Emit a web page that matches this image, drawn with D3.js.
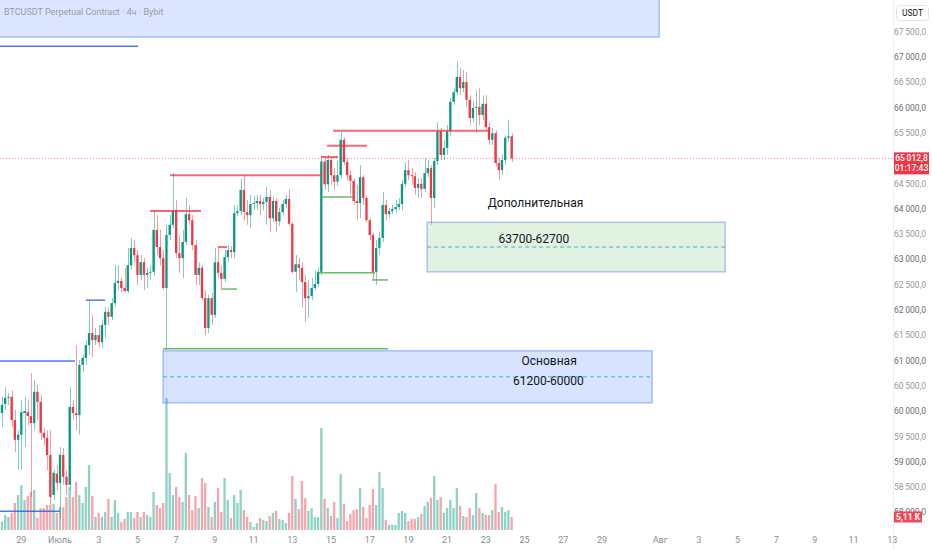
<!DOCTYPE html>
<html><head><meta charset="utf-8">
<script src="https://cdn.jsdelivr.net/npm/d3@7/dist/d3.min.js"></script>
<style>html,body{margin:0;padding:0;background:#fff;overflow:hidden}svg{display:block}</style>
</head><body><svg id="c" width="932" height="550"></svg>
<script>
// ---------- DATA ----------
const firstCandle = "2024-06-27T20:00:00Z"; // 4h candles
// [open, high, low, close]
const ohlc = [
[60240,60340,60000,60080],[59980,60300,59700,60140],[60160,60490,60040,60280],[60280,60380,60140,60300],
[60300,60430,59700,59840],[59840,60040,59210,59450],[59450,59640,58850,59550],[59550,60240,58850,60000],
[59980,60300,59310,60020],[60000,60240,59740,59920],[59920,60770,58320,59780],[59780,60630,59640,60400],
[60400,60530,59840,60200],[60200,60340,59450,59590],[59590,59680,59350,59490],[59490,59640,58850,59150],
[59150,59640,58160,58320],[58360,58850,58260,58800],[58780,58950,58460,58600],[58600,59310,57900,59150],
[59150,59290,58560,58720],[58720,58850,58360,58560],[58560,60490,58460,60100],[60100,60240,59840,59980],
[59980,61320,59640,59940],[59940,61030,59550,60930],[60930,61130,60790,61070],[61070,61420,60930,61320],
[61320,62210,61130,61560],[61560,61920,61090,61420],[61420,61660,61320,61520],[61520,61720,61280,61380],
[61380,61820,61260,61720],[61720,62080,61460,61980],[61980,62060,61720,61880],[61880,62250,61820,62150],
[62150,62900,62090,62550],[62550,62900,62410,62590],[62590,62650,62370,62450],[62450,62850,62350,62390],
[62390,63240,62350,62900],[62900,63440,62810,63240],[63240,63400,62960,63100],[63100,63200,62510,62710],
[62710,63100,62610,62960],[62960,63040,62410,62710],[62710,62850,62450,62750],[62750,62900,62610,62770],
[62770,63990,62690,63600],[63600,63890,63100,63260],[63260,63600,62900,63040],[63040,63200,62410,62450],
[62450,63700,61230,63500],[63500,63890,63400,63700],[63700,64720,63640,63990],[63990,64190,63040,63140],
[63140,63500,62750,63040],[63040,63600,62650,63360],[63360,64230,63300,63910],[63910,64090,63700,63790],
[63790,63890,63200,63300],[63300,63400,62510,62710],[62710,62960,62510,62850],[62850,62900,62210,62250],
[62250,62410,61520,61660],[61660,62310,61560,62250],[62250,62350,61720,61920],[61920,63240,61860,62960],
[62960,63260,62650,62750],[62750,62900,62410,62630],[62630,63200,62570,63060],[63060,63300,62960,63200],
[63200,63280,63040,63160],[63160,64090,63040,63930],[63930,64090,63870,63970],[63970,64620,63890,64390],
[64390,64680,63790,63950],[63950,64190,63700,63890],[63890,64290,63640,64110],[64110,64270,63990,64130],
[64130,64290,63990,64170],[64170,64290,63890,64110],[64110,64230,63990,64150],[64150,64450,63700,64250],
[64250,64390,63560,63830],[63830,64270,63750,64170],[64170,64230,63560,63770],[63770,64030,63680,63950],
[63950,64190,63890,64110],[64110,64290,64030,64210],[64210,64390,63680,63720],[63720,63750,62730,62770],
[62770,63100,62370,62920],[62920,63040,62610,62850],[62850,62960,62060,62570],[62570,62710,61780,62250],
[62250,62610,61860,62290],[62290,62650,62210,62450],[62450,62810,62410,62530],[62530,62850,62470,62770],
[62770,65060,62710,64950],[64950,65030,64390,64500],[64500,65080,64350,64980],[64980,65040,64490,64680],
[64680,64820,64390,64550],[64550,64980,64470,64680],[64680,65530,64620,65380],[65380,65420,64880,64940],
[64940,65020,64580,64680],[64680,64780,64290,64570],[64570,64620,64090,64170],[64170,64490,63790,64130],
[64130,64880,63830,64640],[64640,64680,64090,64230],[64230,64270,63750,63790],[63790,63830,63400,63500],
[63500,63540,62610,62770],[62770,63400,62510,63240],[63240,63560,63100,63440],[63440,64350,63360,64090],
[64090,64190,63790,63910],[63910,64030,63830,63970],[63970,64090,63910,64010],[64010,64190,63930,64050],
[64050,64230,63990,64110],[64110,64580,63990,64510],[64510,64940,64450,64780],[64780,64980,64580,64680],
[64680,64820,64490,64660],[64660,64740,64290,64430],[64430,64620,64230,64510],[64510,64620,64230,64410],
[64410,65020,64350,64720],[64720,64980,64640,64820],[64820,64880,63700,64230],[64230,65020,64030,64960],
[64960,65730,64880,65550],[65550,65610,64980,65080],[65080,65380,64980,65220],[65220,65670,65080,65550],
[65550,66210,65470,66130],[66130,66400,66070,66320],[66320,66920,66260,66620],[66620,66800,66260,66400],
[66400,66760,66320,66520],[66520,66720,66030,66170],[66170,66260,65670,65810],[65810,66130,65730,66010],
[66010,66360,65510,66030],[66030,66400,65670,65870],[65870,66260,65770,66090],[66090,66260,65570,65630],
[65630,65730,65280,65380],[65380,65610,65280,65510],[65510,65570,64860,64920],[64920,65020,64580,64780],
[64780,65080,64680,64980],[64980,65470,64880,65420],[65420,65770,65340,65450],[65450,65510,64940,65012.8]
];
// volume, thousands
const volumeK = [
3.9,3.3,5.9,5.1,6.7,10.6,13.7,17.6,11.8,13.3,
14.9,15.7,4.7,8.6,8.6,9.8,9.8,10.2,6.7,9.0,
9.0,12.9,16.9,12.9,18.8,13.7,10.6,16.9,25.5,13.3,
5.1,6.7,5.1,7.1,12.2,5.1,11.8,6.7,3.1,4.3,
7.1,7.1,4.7,7.1,5.1,7.1,5.9,5.1,14.9,9.8,
8.6,10.6,51.8,22.4,13.7,16.9,12.9,11.0,30.2,13.7,
7.8,13.3,8.6,20.4,18.4,9.0,5.1,11.0,16.5,7.1,
20.4,11.8,4.7,13.7,10.6,15.7,7.8,5.1,3.1,1.2,
2.7,4.7,4.0,3.5,5.5,6.7,7.5,4.3,3.9,2.7,
6.7,21.2,12.2,8.2,19.2,12.5,7.5,8.6,5.1,5.1,
40.0,12.2,8.6,5.5,11.0,4.7,22.0,10.2,3.5,6.3,
7.8,8.2,16.5,9.0,4.7,9.8,16.1,9.8,22.7,16.5,
3.9,2.0,2.0,2.0,6.7,7.5,6.7,3.5,4.3,4.3,
5.1,6.3,9.4,11.0,12.5,21.2,11.8,12.9,6.7,8.6,
11.8,8.6,16.5,9.4,5.5,5.1,8.6,5.9,14.5,8.6,
6.7,5.9,5.9,7.8,18.0,7.1,9.0,7.1,7.8,5.11
];
const xTickDates = ["2024-06-29","2024-07-01","2024-07-03","2024-07-05","2024-07-07","2024-07-09","2024-07-11","2024-07-13","2024-07-15","2024-07-17","2024-07-19","2024-07-21","2024-07-23","2024-07-25","2024-07-27","2024-07-29","2024-08-01","2024-08-03","2024-08-05","2024-08-07","2024-08-09","2024-08-11","2024-08-13"];
const xTickLabels = ["29","Июль","3","5","7","9","11","13","15","17","19","21","23","25","27","29","Авг","3","5","7","9","11","13"];
const priceTicks = [58000,58500,59000,59500,60000,60500,61000,61500,62000,62500,63000,63500,64000,64500,65000,65500,66000,66500,67000,67500];
const lastPrice = 65012.8;
const countdown = "01:17:43";
const lastVolumeLabel = "5,11 K";
const title = "BTCUSDT Perpetual Contract · 4ч · Bybit";
const currencyLabel = "USDT";

// drawn horizontal segments
const segFrom  = ["2024-06-27T20:00Z","2024-07-02T08:15Z","2024-06-27T20:00Z","2024-06-27T20:00Z","2024-07-06T16:25Z","2024-07-05T15:38Z","2024-07-09T04:00Z","2024-07-09T09:00Z","2024-07-06T07:45Z","2024-07-15T02:36Z","2024-07-14T19:12Z","2024-07-14T11:42Z","2024-07-14T11:42Z","2024-07-14T08:00Z","2024-07-17T03:00Z"];
const segTo    = ["2024-07-05T00:40Z","2024-07-03T07:50Z","2024-07-01T18:36Z","2024-07-01T00:00Z","2024-07-14T13:00Z","2024-07-08T06:53Z","2024-07-09T15:07Z","2024-07-10T03:30Z","2024-07-17T22:50Z","2024-07-23T02:50Z","2024-07-16T20:48Z","2024-07-15T08:48Z","2024-07-16T03:20Z","2024-07-17T06:40Z","2024-07-17T22:50Z"];
const segPrice = [67230,62210,61010,58040,64680,63970,63260,62430,61250,65560,65260,65040,64250,62750,62610];
const segKind  = ["blue","blue","blue","blue","red","red","red","green","green","red","red","red","green","green","green"];

// zones
const zoneFrom   = ["2024-07-19T23:12Z","2024-07-06T07:45Z"];
const zoneTo     = ["2024-08-04T08:48Z","2024-07-31T14:18Z"];
const zoneTop    = [63750,61210];
const zoneBottom = [62770,60180];
const zoneKind   = ["green","blue"];
const zoneTitle  = ["Дополнительная","Основная"];
const zoneTitleAt= ["2024-07-25T13:40Z","2024-07-26T06:30Z"];
const zoneTitleP = [64110,61000];
const zoneRange  = ["63700-62700","61200-60000"];
const zoneRangeAt= ["2024-07-25T11:30Z","2024-07-26T05:30Z"];
const zoneRangeP = [63410,60590];
// header rectangle
const headerRect = {from:"2024-06-27T20:00Z", to:"2024-07-31T23:00Z", top:68200, bottom:67410};

// ---------- CHART ----------
const W = 932, H = 550, axisX = 893, volBase = 530;
const svg = d3.select("#c");
const FONT = "Roboto, 'Liberation Sans', sans-serif";
const up = "#089981", down = "#f23645";

const x = d3.scaleUtc()
  .domain([new Date("2024-06-29T00:00Z"), new Date("2024-08-13T00:00Z")])
  .range([21.3, 892.3]);
const y = d3.scaleLinear().domain([58000, 67500]).range([513.2, 32.5]);
const vy = d3.scaleLinear().domain([0, 51.8]).range([volBase, 398]);

const t0 = new Date(firstCandle).getTime();
const bars = ohlc.map((d, i) => ({t: new Date(t0 + i * 4 * 3600e3), o: d[0], h: d[1], l: d[2], c: d[3], v: volumeK[i]}));
const bw = 2.3;

svg.append("rect").attr("width", W).attr("height", H).attr("fill", "#fff");
const clip = svg.append("defs").append("clipPath").attr("id", "pane");
clip.append("rect").attr("x", 0).attr("y", 0).attr("width", axisX).attr("height", volBase + 1);
const pane = svg.append("g").attr("clip-path", "url(#pane)");

// volume
pane.append("g").selectAll("rect").data(bars).join("rect")
  .attr("x", d => x(d.t) - bw / 2).attr("width", bw)
  .attr("y", d => vy(d.v)).attr("height", d => volBase - vy(d.v))
  .attr("fill", d => d.c >= d.o ? up : down).attr("fill-opacity", 0.45);

// wicks
pane.append("g").selectAll("line").data(bars).join("line")
  .attr("x1", d => Math.round(x(d.t)) + 0.5).attr("x2", d => Math.round(x(d.t)) + 0.5)
  .attr("y1", d => y(d.h)).attr("y2", d => y(d.l))
  .attr("stroke", d => d.c >= d.o ? up : down).attr("stroke-opacity", 0.5).attr("stroke-width", 1);
// bodies
pane.append("g").selectAll("rect").data(bars).join("rect")
  .attr("x", d => x(d.t) - bw / 2).attr("width", bw)
  .attr("y", d => y(Math.max(d.o, d.c)))
  .attr("height", d => Math.max(1, Math.abs(y(d.o) - y(d.c))))
  .attr("fill", d => d.c >= d.o ? up : down);

// header rectangle
const hx1 = x(new Date(headerRect.from)), hx2 = x(new Date(headerRect.to));
pane.append("rect").attr("x", hx1).attr("y", y(headerRect.top))
  .attr("width", hx2 - hx1).attr("height", y(headerRect.bottom) - y(headerRect.top))
  .attr("fill", "#2962ff").attr("fill-opacity", 0.17)
  .attr("stroke", "#2962ff").attr("stroke-opacity", 0.35).attr("stroke-width", 1.5);
svg.append("text").attr("x", 4).attr("y", 15).text(title)
  .attr("font-family", FONT).attr("font-size", 9).attr("fill", "#9a9ca6");

// zones
const zoneFill = {green: "#4caf50", blue: "#2962ff"};
const zoneOpacity = {green: 0.17, blue: 0.18};
zoneFrom.forEach((f, i) => {
  const x1 = x(new Date(f)), x2 = x(new Date(zoneTo[i]));
  const yt = y(zoneTop[i]), yb = y(zoneBottom[i]);
  pane.append("rect").attr("x", x1).attr("y", yt).attr("width", x2 - x1).attr("height", yb - yt)
    .attr("fill", zoneFill[zoneKind[i]]).attr("fill-opacity", zoneOpacity[zoneKind[i]])
    .attr("stroke", "#2962ff").attr("stroke-opacity", 0.35).attr("stroke-width", 1.5);
  const ym = y((zoneTop[i] + zoneBottom[i]) / 2);
  pane.append("line").attr("x1", x1).attr("x2", x2).attr("y1", ym).attr("y2", ym)
    .attr("stroke", "#3fb5d3").attr("stroke-width", 1).attr("stroke-dasharray", "4,3");
  pane.append("text").attr("x", x(new Date(zoneTitleAt[i]))).attr("y", y(zoneTitleP[i]))
    .attr("text-anchor", "middle").attr("dominant-baseline", "middle")
    .attr("font-family", FONT).attr("font-size", 12).attr("font-weight", 400).attr("fill", "#131722")
    .text(zoneTitle[i]);
  pane.append("text").attr("x", x(new Date(zoneRangeAt[i]))).attr("y", y(zoneRangeP[i]))
    .attr("text-anchor", "middle").attr("dominant-baseline", "middle")
    .attr("font-family", FONT).attr("font-size", 12).attr("font-weight", 400).attr("fill", "#131722")
    .text(zoneRange[i]);
});

// horizontal segments
const segColor = {blue: "#2962ff", red: "#f23645", green: "#4caf50"};
const segOp = {blue: 0.85, red: 0.75, green: 0.85};
const segW = {blue: 1.5, red: 2, green: 1.5};
pane.append("g").selectAll("line").data(segPrice).join("line")
  .attr("x1", (p, i) => x(new Date(segFrom[i]))).attr("x2", (p, i) => x(new Date(segTo[i])))
  .attr("y1", p => y(p)).attr("y2", p => y(p))
  .attr("stroke", (p, i) => segColor[segKind[i]]).attr("stroke-opacity", (p, i) => segOp[segKind[i]])
  .attr("stroke-width", (p, i) => segW[segKind[i]]);

// last price line
svg.append("line").attr("x1", 0).attr("x2", axisX).attr("y1", y(lastPrice)).attr("y2", y(lastPrice))
  .attr("stroke", down).attr("stroke-opacity", 0.6).attr("stroke-width", 1).attr("stroke-dasharray", "1,2");

// right axis
svg.append("line").attr("x1", axisX + 0.5).attr("x2", axisX + 0.5).attr("y1", 0).attr("y2", H)
  .attr("stroke", "#e0e3eb").attr("stroke-opacity", 0.6);
const loc = d3.formatLocale({decimal: ",", thousands: "\u2009", grouping: [3], currency: ["", ""]});
const fmt = loc.format(",.1f");
const lv = vy(volumeK[volumeK.length - 1]);
svg.append("g").selectAll("text").data(priceTicks).join("text")
  .attr("x", 926).attr("y", p => y(p)).attr("text-anchor", "end").attr("dominant-baseline", "middle")
  .attr("font-family", FONT).attr("font-size", 8.5)
  .attr("fill", p => p % 1000 === 0 ? "#6a6d78" : "#9598a1")
  .text(p => fmt(p));

// currency button
svg.append("rect").attr("x", 896.5).attr("y", 5.5).attr("width", 32).attr("height", 15).attr("rx", 3)
  .attr("fill", "#fff").attr("stroke", "#e0e3eb");
svg.append("text").attr("x", 912.5).attr("y", 13.5).attr("text-anchor", "middle").attr("dominant-baseline", "middle")
  .attr("font-family", FONT).attr("font-size", 8.5).attr("fill", "#131722").text(currencyLabel);

// last price label
const ly = y(lastPrice);
svg.append("rect").attr("x", 894).attr("y", ly - 6).attr("width", 35).attr("height", 22).attr("fill", down);
svg.append("text").attr("x", 911.5).attr("y", ly + 0.5).attr("text-anchor", "middle").attr("dominant-baseline", "middle")
  .attr("font-family", FONT).attr("font-size", 8.5).attr("font-weight", 500).attr("fill", "#fff").text(fmt(lastPrice));
svg.append("text").attr("x", 911.5).attr("y", ly + 10.5).attr("text-anchor", "middle").attr("dominant-baseline", "middle")
  .attr("font-family", FONT).attr("font-size", 8.5).attr("font-weight", 500).attr("fill", "#fff").text(countdown);

// last volume label
svg.append("rect").attr("x", 894).attr("y", lv - 5.5).attr("width", 28).attr("height", 11).attr("fill", down).attr("fill-opacity", 0.9);
svg.append("text").attr("x", 908).attr("y", lv + 0.5).attr("text-anchor", "middle").attr("dominant-baseline", "middle")
  .attr("font-family", FONT).attr("font-size", 8.5).attr("font-weight", 700).attr("fill", "#fff").text(lastVolumeLabel);

// bottom axis
svg.append("g").selectAll("text").data(xTickDates).join("text")
  .attr("x", d => x(new Date(d + "T00:00Z"))).attr("y", 540.5)
  .attr("text-anchor", "middle").attr("dominant-baseline", "middle")
  .attr("font-family", FONT).attr("font-size", 9).attr("fill", "#8a8d96")
  .text((d, i) => xTickLabels[i]);
</script>
</body></html>
